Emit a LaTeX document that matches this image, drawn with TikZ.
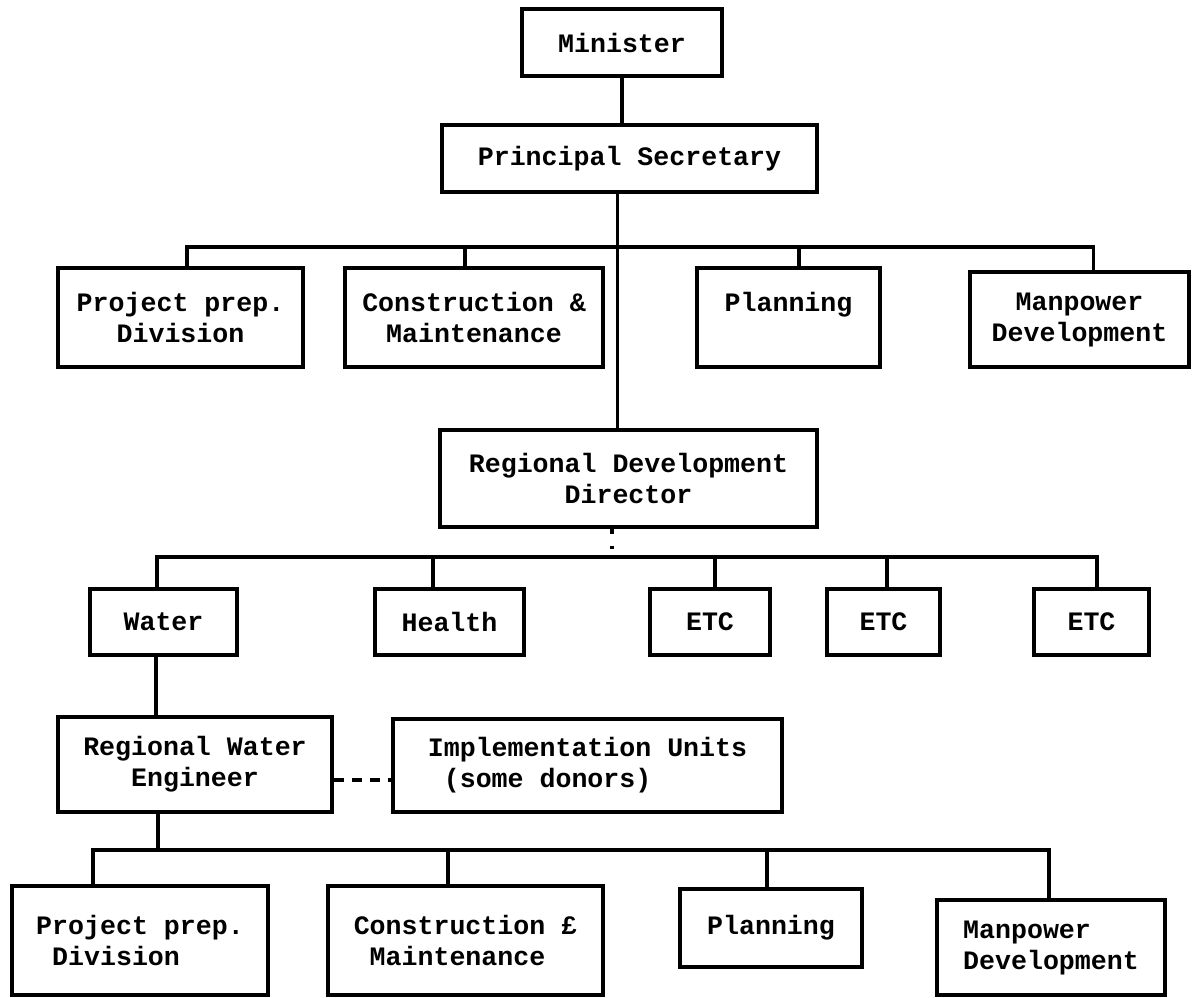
\documentclass[tikz,border=0pt]{standalone}
\usepackage{fontspec}
\setmonofont{Liberation Mono}
\tikzset{org node/.style={draw, line width=1.6pt, inner sep=0pt, align=center,
    font=\ttfamily\bfseries\fontsize{13.3}{15.5}\selectfont},
  link/.style={line width=1.8pt},}

\begin{document}
\begin{tikzpicture}[x=0.5pt, y=-0.5pt]
\useasboundingbox (0,0) rectangle (1192,997);
% Top
\node[org node, minimum width=100pt, minimum height=33.5pt] (min) at (622,42.5) {Minister};
\node[org node, minimum width=187.5pt, minimum height=33.5pt] (ps) at (629.5,158.5) {Principal Secretary};
% Divisions
\node[org node, minimum width=122.5pt, minimum height=49.5pt] (pp1) at (180.5,317.5) {Project prep.\\Division};
\node[org node, minimum width=129pt, minimum height=49.5pt] (con1) at (474,317.5) {Construction \&\\Maintenance};
\node[org node, minimum width=91.5pt, minimum height=49.5pt] (plan1) at (788.5,317.5) {Planning\\~};
\node[org node, minimum width=109.5pt, minimum height=47.5pt] (man1) at (1079.5,319.5) {Manpower\\Development};
\node[org node, minimum width=188.5pt, minimum height=48.5pt] (rdd) at (628.5,478.5) {Regional Development\\Director};
% Sectors
\node[org node, minimum width=73.5pt, minimum height=33pt] (water) at (163.5,622) {Water};
\node[org node, minimum width=74.5pt, minimum height=33pt] (health) at (449.5,622) {Health};
\node[org node, minimum width=60pt, minimum height=33pt] (etc1) at (710,622) {ETC};
\node[org node, minimum width=56.5pt, minimum height=33pt] (etc2) at (883.5,622) {ETC};
\node[org node, minimum width=57.5pt, minimum height=33pt] (etc3) at (1091.5,622) {ETC};
% Region
\node[org node, minimum width=137pt, minimum height=47.5pt] (rwe) at (195,764.5) {Regional Water\\Engineer};
\node[org node, align=left, minimum width=194.5pt, minimum height=46.5pt] (impl) at (587.5,765.5) {Implementation Units\\\ (some donors)};
\node[org node, align=left, minimum width=128pt, minimum height=54.5pt] (pp2) at (140,940.5) {Project prep.\\\ Division};
\node[org node, align=left, minimum width=137.5pt, minimum height=54.5pt] (con2) at (465.5,940.5) {Construction £\\\ Maintenance};
\node[org node, minimum width=91pt, minimum height=39pt] (plan2) at (771,928) {Planning};
\node[org node, align=left, minimum width=114pt, minimum height=47.5pt] (man2) at (1051,947.5) {Manpower\\Development};
% Paths
\coordinate (bar1) at (617,247);
\coordinate (bar2) at (612,557);
\coordinate (bar3) at (158,850);
\draw[link] (min.south) -- (min.south |- ps.north);
\draw[link] ([xshift=-6pt]ps.south) -- ([xshift=-6pt]ps.south |- rdd.north);
\draw[link] ([xshift=3.25pt]pp1.north) |- (bar1);
\draw[link] ([xshift=-4.5pt]con1.north) |- (bar1);
\draw[link] ([xshift=5.25pt]plan1.north) |- (bar1);
\draw[link] ([xshift=7pt]man1.north) |- (bar1);
\draw[link, dash pattern=on 2.5pt off 6pt on 1.5pt off 20pt] ([xshift=-8.25pt]rdd.south) -- (bar2);
\draw[link] ([xshift=-3.25pt]water.north) |- (bar2);
\draw[link] ([xshift=-8.25pt]health.north) |- (bar2);
\draw[link] ([xshift=2.5pt]etc1.north) |- (bar2);
\draw[link] ([xshift=1.75pt]etc2.north) |- (bar2);
\draw[link] ([xshift=2.75pt]etc3.north) |- (bar2);
\draw[link] ([xshift=-3.75pt]water.south) -- ([xshift=-3.75pt]water.south |- rwe.north);
\draw[link, dash pattern=on 5pt off 4pt] ([yshift=-7.75pt]rwe.east) -- ([yshift=-7.75pt]rwe.east -| impl.west);
\draw[link] ([xshift=-18.5pt]rwe.south) -- (bar3);
\draw[link] ([xshift=-23.5pt]pp2.north) |- (bar3);
\draw[link] ([xshift=-8.75pt]con2.north) |- (bar3);
\draw[link] ([xshift=-2pt]plan2.north) |- (bar3);
\draw[link] ([xshift=-1pt]man2.north) |- (bar3);
\end{tikzpicture}
\end{document}
